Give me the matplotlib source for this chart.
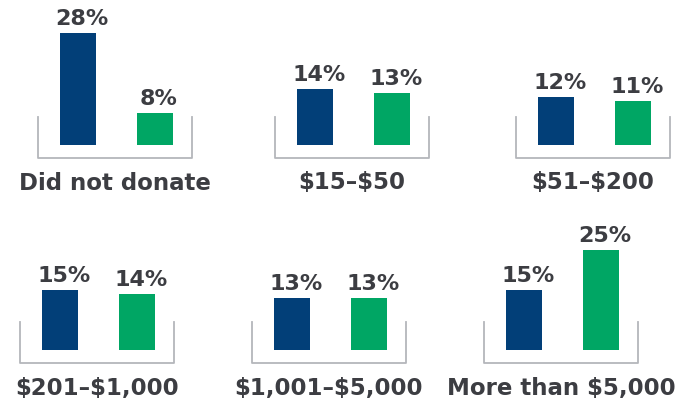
import matplotlib.pyplot as plt

# donation ranges and the two series (percent)
categories = ['Did not donate', '$15–$50', '$51–$200',
              '$201–$1,000', '$1,001–$5,000', 'More than $5,000']
blue_vals = [28, 14, 12, 15, 13, 15]
green_vals = [8, 13, 11, 14, 13, 25]

blue = '#023f78'
green = '#00a664'
text_col = '#3c3d42'
bracket_col = '#b4b6bb'

W, H = 681, 401
fig = plt.figure(figsize=(W / 100, H / 100), dpi=100)
plt.rcParams['font.family'] = ['DejaVu Sans']

# panel positions in pixels: (left, bottom-from-top)
lefts = [38, 275, 516, 20, 252, 484]
bottoms = [158, 158, 158, 363, 363, 363]
pw, ph = 154, 138
ppx = 4.0  # pixels per percent
ybot = -13 / ppx

for i, cat in enumerate(categories):
    ax = fig.add_axes([lefts[i] / W, 1 - bottoms[i] / H, pw / W, ph / H])
    ax.set_xlim(-0.52, 1.48)
    ax.set_ylim(ybot, ybot + ph / ppx)
    ax.axis('off')
    vals = [blue_vals[i], green_vals[i]]
    ax.bar([0, 1], vals, width=0.46, color=[blue, green])
    for x, v in zip([0, 1], vals):
        ax.text(x + 0.05, v + 1.0, f'{v}%', ha='center', va='bottom',
                fontsize=16, fontweight='heavy', color=text_col)
    ax.plot([-0.52, -0.52, 1.48, 1.48], [7, ybot, ybot, 7],
            color=bracket_col, lw=1.3, clip_on=False)
    ax.text(0.48, ybot - 25 / ppx, cat, ha='center', va='center',
            fontsize=16.5, fontweight='heavy', color=text_col,
            clip_on=False, parse_math=False)

plt.savefig('out.png', dpi=100)
